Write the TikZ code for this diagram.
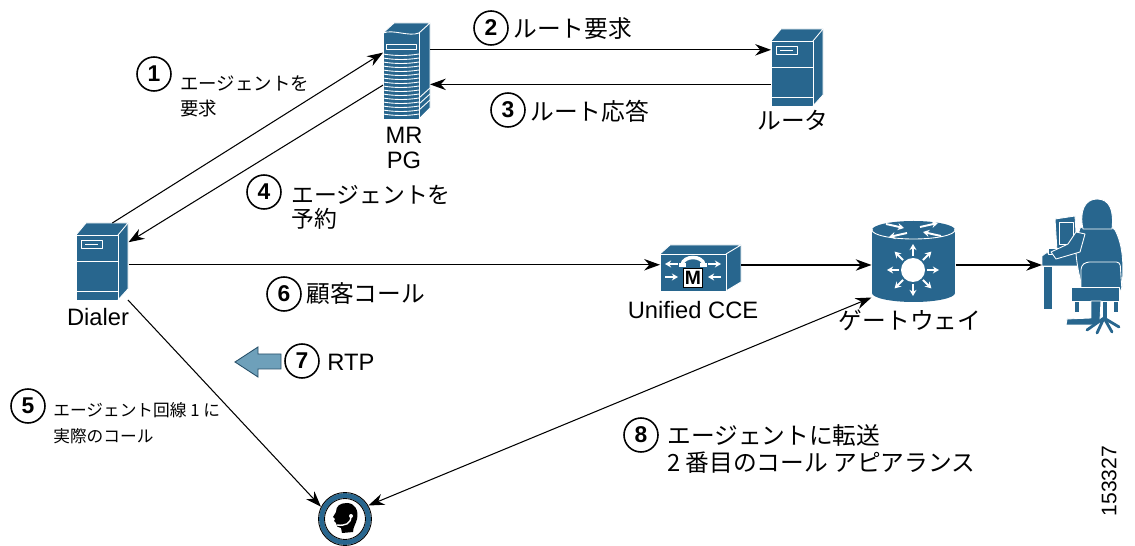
\documentclass[tikz,border=0pt]{standalone}
\usepackage{fontspec}
\setmainfont{Liberation Sans}
\newfontfamily\jpfont{Noto Sans CJK JP}
\usetikzlibrary{arrows.meta,calc}
\definecolor{ciscoblue}{RGB}{40,102,142}
\definecolor{rtpblue}{RGB}{110,160,186}
\definecolor{rtpedge}{RGB}{40,80,105}

% small tower server, origin = top-left corner of the front face
\newcommand\smallsrv[1]{%
  \begin{scope}[shift={(#1)}]
    \fill[ciscoblue] (0,0) -- (10,-12) -- (52,-12) -- (52,54) -- (42,65) -- (0,65) -- cycle;
    \draw[hl] (0,0) rectangle (42,65);
    \draw[hl] (0,0) -- (10,-12) -- (52,-12) -- (42,0);
    \draw[hl] (52,-12) -- (52,54) -- (42,65);
    \draw[hl] (5,5) rectangle (26,13);
    \draw[hl] (9,9) -- (22,9);
    \draw[hl] (0,26) -- (42,26);
    \draw[hl] (0,56) -- (42,56);
  \end{scope}}

\begin{document}
\begin{tikzpicture}[x=0.02cm, y=-0.02cm,
  hl/.style={draw=white, line width=0.5pt, line join=round},
  icon/.style={fill=ciscoblue, draw=white, line width=0.5pt, line join=round},
  hotspot/.style 2 args={minimum width=#1*0.02cm, minimum height=#2*0.02cm,
    inner sep=0pt, outer sep=0pt, draw=none},
  conn/.style={line width=0.6pt, -{Stealth[length=9pt,width=6.5pt]}},
  both/.style={line width=0.6pt, {Stealth[length=9pt,width=6.5pt]}-{Stealth[length=9pt,width=6.5pt]}},
  numc/.style={circle, draw, line width=0.9pt, minimum size=0.68cm, inner sep=0pt,
    font=\fontsize{13}{13}\selectfont\bfseries},
  lbl/.style={font=\fontsize{13.5}{14}\selectfont, inner sep=0pt},
  jlbl/.style={font=\jpfont\fontsize{13.5}{14}\selectfont, inner sep=0pt},
  jtxt/.style={font=\jpfont\fontsize{13.5}{15}\selectfont, inner sep=0pt, anchor=west, align=left},
  whitearrow/.style={white, line width=1.1pt, -{Stealth[length=3.5pt,width=4pt]}}
]
\useasboundingbox (0,0) rectangle (1135,546);

% ---------- servers ----------
\smallsrv{76,235}
\smallsrv{771,41}

% MR PG tower
\fill[ciscoblue] (383,33) -- (394,23) -- (430,23) -- (430,108) -- (419,119) -- (383,119) -- cycle;
\draw[hl] (383,33) .. controls (393,29) and (409,37) .. (419,33);
\draw[hl] (383,33) -- (383,119) -- (419,119) -- (419,33);
\draw[hl] (383,33) -- (394,23) -- (430,23) -- (419,33);
\draw[hl] (430,23) -- (430,108) -- (419,119);
\draw[hl] (386,44) rectangle (416,49);
\foreach \yy in {54,58,...,114}
  \draw[hl] (383,\yy) .. controls (395,\yy+2) and (407,\yy+2) .. (419,\yy);
\foreach \yy in {88,94,100}
  \draw[hl] (419,\yy+10) -- (430,\yy);

% ---------- Unified CCE ----------
\fill[ciscoblue] (660,254) -- (670,245) -- (741,245) -- (741,282) -- (726,291) -- (660,291) -- cycle;
\draw[hl] (660,254) rectangle (726,291);
\draw[hl] (660,254) -- (670,245) -- (741,245) -- (726,254);
\draw[hl] (741,245) -- (741,282) -- (726,291);
\draw[white, line width=2pt, line cap=round] (682,265) .. controls (683,255) and (703,255) .. (704,265);
\fill[white] (679,263) rectangle (686,267);
\fill[white] (700,263) rectangle (707,267);
\draw[whitearrow] (678,264) -- (665,264);
\draw[whitearrow] (665,277) -- (678,277);
\draw[whitearrow] (708,264) -- (721,264);
\draw[whitearrow] (721,277) -- (708,277);
\node[draw=black, fill=white, line width=0.6pt, minimum size=0.38cm, inner sep=0pt,
  font=\fontsize{11}{11}\selectfont\bfseries] (mbox) at (693,278) {M};

% ---------- gateway (router cylinder) ----------
\fill[ciscoblue] (913.5,293) ellipse[x radius=41.5, y radius=9];
\fill[ciscoblue] (872,230) rectangle (955,293);
\fill[ciscoblue] (913.5,230) ellipse[x radius=41.5, y radius=9];
\begin{scope}
  \clip (860,230) rectangle (970,245);
  \draw[hl] (913.5,230) ellipse[x radius=41.5, y radius=9];
\end{scope}
\draw[whitearrow] (886,224) -- (904,228);
\draw[whitearrow] (941,236) -- (923,232);
\draw[whitearrow] (920,227) -- (938,223);
\draw[whitearrow] (907,233) -- (889,237);
\fill[white] (913,270) circle[radius=12];
\foreach \a in {0,45,...,315}
  \draw[whitearrow] ($(913,270)+(\a:14)$) -- ($(913,270)+(\a:26)$);

% ---------- agent at desk ----------
\filldraw[icon] (1043,266) rectangle (1052,309);
\filldraw[icon] (1042,256) -- (1046,253) -- (1084,253) -- (1084,266) -- (1042,266) -- cycle;
\filldraw[icon] (1055,219) -- (1075,216) -- (1077,250) -- (1057,251) -- cycle;
\draw[hl] (1059,222) rectangle (1073,244);
\filldraw[icon] (1048,248) rectangle (1062,254);
\filldraw[icon] (1080,228) .. controls (1092,222) and (1108,222) .. (1115,230)
  .. controls (1123,245) and (1124,265) .. (1122,287) -- (1082,287)
  .. controls (1078,270) and (1075,256) .. (1076,242) -- cycle;
\filldraw[icon] (1085,234) -- (1080,252) -- (1056,259) -- (1051,252) -- (1068,244) -- (1076,232) -- cycle;
\filldraw[icon] (1083,229) .. controls (1079,211) and (1085,199) .. (1097,199)
  .. controls (1110,199) and (1114,211) .. (1112,229) -- cycle;
\filldraw[icon, rounded corners=2pt] (1081,291) -- (1081,266) -- (1086,262) -- (1120,262) -- (1122,291) -- cycle;
\filldraw[icon] (1071,287) rectangle (1119,301);
\filldraw[icon] (1074,301) rectangle (1079,312);
\filldraw[icon] (1113,301) rectangle (1118,312);
\filldraw[icon] (1091,301) -- (1101,301) -- (1100,320) -- (1097,325) -- (1066,325) -- (1067,319) -- (1091,318) -- cycle;
\filldraw[icon] (1102,301) rectangle (1107,318);
\draw[ciscoblue, line width=1.6pt, line cap=round]
  (1104,318) -- (1087,330) (1104,318) -- (1097,333) (1104,318) -- (1112,332) (1104,318) -- (1119,327);

% ---------- agent headset phone ----------
\begin{scope}[shift={(345,519)}]
  \fill[white] (0,0) circle[radius=26.5];
  \draw[ciscoblue, line width=2.8pt] (0,0) circle[radius=23.5];
  \draw[black, line width=0.5pt] (0,0) circle[radius=26.5];
  \draw[black, line width=0.5pt] (0,0) circle[radius=20.5];
  \fill[black] (2,-16) .. controls (10,-16) and (14,-8) .. (12,0)
    .. controls (11,5) and (8,8) .. (8,13) -- (-3,14) -- (-4,9)
    .. controls (-7,9) and (-9,7) .. (-9,4) -- (-11,2) -- (-10,0) -- (-12,-2)
    -- (-9,-7) .. controls (-9,-13) and (-5,-16) .. (2,-16) -- cycle;
  \draw[white, line width=0.8pt] (6,-3) .. controls (6,5) and (0,7) .. (-8,6);
  \fill[white] (6,-3) circle[radius=2];
\end{scope}

% ---------- RTP media arrow ----------
\filldraw[fill=rtpblue, draw=rtpedge, line width=0.5pt, line join=miter]
  (235,362) -- (258,347) -- (258,354) -- (281,354) -- (281,369) -- (258,369) -- (258,377) -- cycle;

% ---------- connection anchors ----------
\node[hotspot={53}{77}] (dialer) at (102,261.5) {};
\node[hotspot={52}{77}] (router) at (797,67.5) {};
\node[hotspot={47}{96}] (mrpg) at (406.5,71) {};
\node[hotspot={81}{40}] (cce) at (700.5,265) {};
\node[hotspot={84}{82}] (gw) at (913.5,261) {};
\node[hotspot={80}{127}] (agent) at (1082,266.5) {};
\node[circle, inner sep=0pt, outer sep=0pt, minimum size=1.08cm] (head) at (345,519) {};

% ---------- connectors ----------
\draw[conn] (dialer.75) -- (mrpg.142);
\draw[conn] (mrpg.42) -- (mrpg.42 -| router.west);
\draw[conn] (router.213) -- (router.213 -| mrpg.east);
\draw[conn] (mrpg.211) -- (dialer.36);
\draw[conn] (dialer.-7) -- (dialer.-7 -| cce.west);
\draw[conn] (cce.east) -- (cce.east -| gw.west);
\draw[conn] (gw.east |- cce.east) -- (agent.west |- cce.east);
\draw[conn] (dialer.-56) -- (head.153);
\draw[both] (gw.221) -- (head.30);

% ---------- device names ----------
\node[lbl, font=\fontsize{13.5}{14.6}\selectfont, align=center] (mrpgname) at (404,148) {MR\\PG};
\node[jlbl] (routername) at (793,120) {ルータ};
\node[lbl] (dialername) at (98,317) {Dialer};
\node[lbl] (ccename) at (693,310) {Unified CCE};
\node[jlbl] (gwname) at (910,320) {ゲートウェイ};

% ---------- numbered steps ----------
\node[numc] (n1) at (154,74) {1};
\node[jtxt, font=\jpfont\fontsize{10.5}{14.2}\selectfont] (t1) at (180,96) {エージェントを\\要求};
\node[numc] (n2) at (491,28) {2};
\node[jtxt] (t2) at (513,29) {ルート要求};
\node[numc] (n3) at (508,110) {3};
\node[jtxt] (t3) at (530,111) {ルート応答};
\node[numc] (n4) at (264,192) {4};
\node[jtxt, font=\jpfont\fontsize{13}{13.6}\selectfont] (t4) at (291,207) {エージェントを\\予約};
\node[numc] (n5) at (28,406) {5};
\node[jtxt, font=\jpfont\fontsize{9.5}{14.7}\selectfont] (t5) at (53,423) {エージェント回線 1 に\\実際のコール};
\node[numc] (n6) at (284,294) {6};
\node[jtxt] (t6) at (306,294) {顧客コール};
\node[numc] (n7) at (302,361) {7};
\node[lbl, anchor=west] (t7) at (327,362) {RTP};
\node[numc] (n8) at (641,435) {8};
\node[jtxt, font=\jpfont\fontsize{13.5}{15.3}\selectfont] (t8) at (667,449) {エージェントに転送\\2 番目のコール アピアランス};

% figure number
\node[rotate=90, font=\fontsize{12}{12}\selectfont, inner sep=0pt] (fignum) at (1109,481) {153327};
\end{tikzpicture}
\end{document}
